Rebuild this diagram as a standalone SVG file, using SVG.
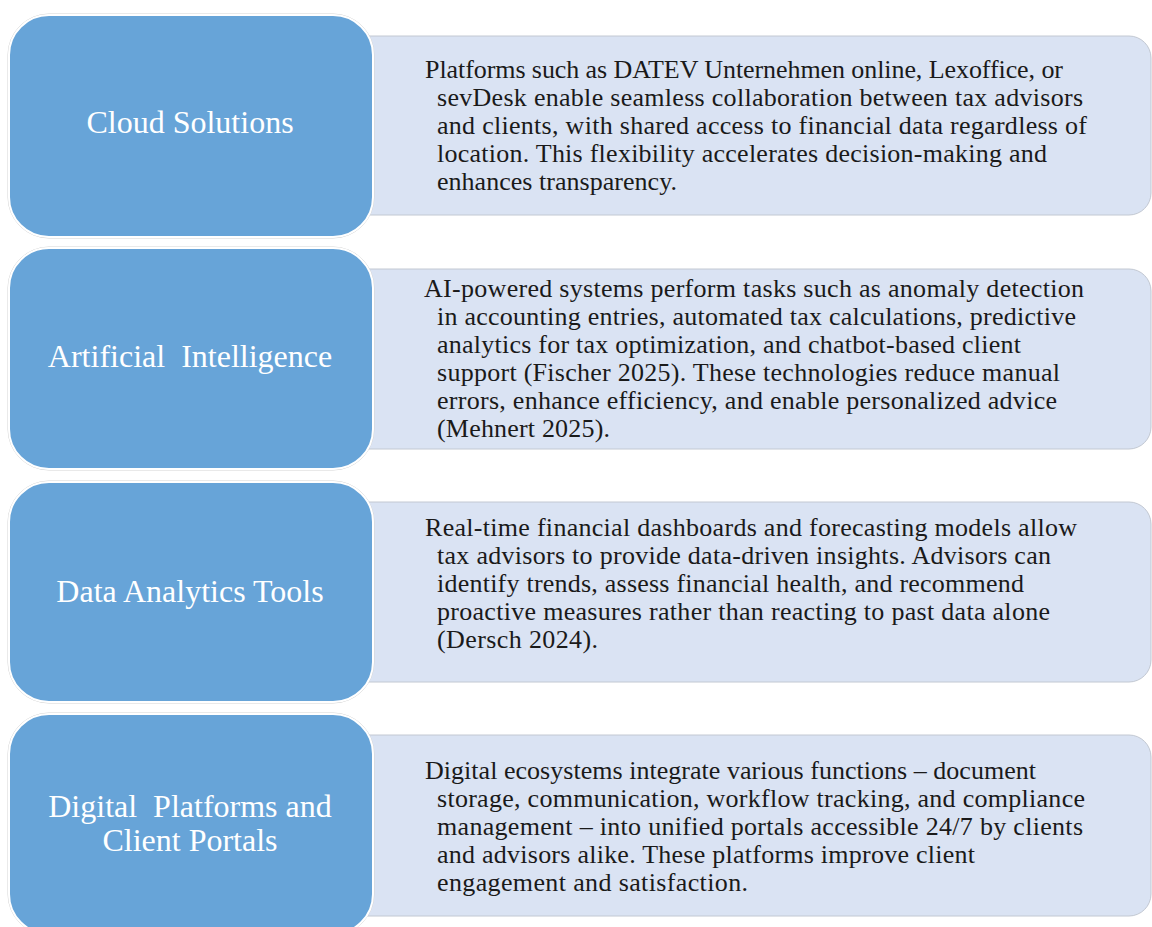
<svg xmlns="http://www.w3.org/2000/svg" width="1152" height="927" viewBox="0 0 1152 927">
  <style>
    .detail { fill: #dae3f3; stroke: #c2c8d2; stroke-width: 1; }
    .head-halo { fill: none; stroke: #d4d4d4; stroke-width: 1; }
    .head { fill: #67a4d8; stroke: #ffffff; stroke-width: 2; }
    .label { font-family: "Liberation Serif", "Times New Roman", serif; font-size: 32px; fill: #ffffff; text-anchor: middle; }
    .body { font-family: "Liberation Serif", "Times New Roman", serif; font-size: 26px; fill: #1a1a1a; }
  </style>
  <rect width="1152" height="927" fill="#ffffff"/>

  <!-- Row 1 -->
  <g id="cloud-solutions">
    <rect class="detail" x="300" y="36" width="851" height="179" rx="22"/>
    <rect class="head-halo" x="8" y="14" width="366" height="224" rx="41"/>
    <rect class="head" x="9" y="15" width="364" height="222" rx="40"/>
    <text class="label" x="190" y="133">Cloud Solutions</text>
    <text class="body" lengthAdjust="spacing">
      <tspan x="425" y="78" textLength="638">Platforms such as DATEV Unternehmen online, Lexoffice, or</tspan>
      <tspan x="437" y="106" textLength="646">sevDesk enable seamless collaboration between tax advisors</tspan>
      <tspan x="437" y="134" textLength="650">and clients, with shared access to financial data regardless of</tspan>
      <tspan x="437" y="162" textLength="610">location. This flexibility accelerates decision-making and</tspan>
      <tspan x="437" y="190" textLength="240">enhances transparency.</tspan>
    </text>
  </g>

  <!-- Row 2 -->
  <g id="artificial-intelligence">
    <rect class="detail" x="300" y="269" width="851" height="180" rx="22"/>
    <rect class="head-halo" x="8" y="247" width="366" height="223" rx="41"/>
    <rect class="head" x="9" y="248" width="364" height="221" rx="40"/>
    <text class="label" x="190" y="367" xml:space="preserve">Artificial  Intelligence</text>
    <text class="body" lengthAdjust="spacing">
      <tspan x="424" y="297" textLength="660">AI-powered systems perform tasks such as anomaly detection</tspan>
      <tspan x="437" y="325" textLength="639">in accounting entries, automated tax calculations, predictive</tspan>
      <tspan x="437" y="353" textLength="584">analytics for tax optimization, and chatbot-based client</tspan>
      <tspan x="437" y="381" textLength="623">support (Fischer 2025). These technologies reduce manual</tspan>
      <tspan x="437" y="409" textLength="620">errors, enhance efficiency, and enable personalized advice</tspan>
      <tspan x="437" y="437" textLength="173">(Mehnert 2025).</tspan>
    </text>
  </g>

  <!-- Row 3 -->
  <g id="data-analytics-tools">
    <rect class="detail" x="300" y="502" width="851" height="180" rx="22"/>
    <rect class="head-halo" x="8" y="481" width="366" height="222" rx="41"/>
    <rect class="head" x="9" y="482" width="364" height="220" rx="40"/>
    <text class="label" x="190" y="602">Data Analytics Tools</text>
    <text class="body" lengthAdjust="spacing">
      <tspan x="425" y="536" textLength="652">Real-time financial dashboards and forecasting models allow</tspan>
      <tspan x="437" y="564" textLength="614">tax advisors to provide data-driven insights. Advisors can</tspan>
      <tspan x="437" y="592" textLength="587">identify trends, assess financial health, and recommend</tspan>
      <tspan x="437" y="620" textLength="613">proactive measures rather than reacting to past data alone</tspan>
      <tspan x="437" y="648" textLength="161">(Dersch 2024).</tspan>
    </text>
  </g>

  <!-- Row 4 -->
  <g id="digital-platforms">
    <rect class="detail" x="300" y="735" width="851" height="181" rx="22"/>
    <rect class="head-halo" x="8" y="713" width="366" height="222" rx="41"/>
    <rect class="head" x="9" y="714" width="364" height="220" rx="40"/>
    <text class="label" x="190" y="817" xml:space="preserve">Digital  Platforms and</text>
    <text class="label" x="190" y="851">Client Portals</text>
    <text class="body" lengthAdjust="spacing">
      <tspan x="425" y="779" textLength="611">Digital ecosystems integrate various functions – document</tspan>
      <tspan x="437" y="807" textLength="648">storage, communication, workflow tracking, and compliance</tspan>
      <tspan x="437" y="835" textLength="646">management – into unified portals accessible 24/7 by clients</tspan>
      <tspan x="437" y="863" textLength="538">and advisors alike. These platforms improve client</tspan>
      <tspan x="437" y="891" textLength="311">engagement and satisfaction.</tspan>
    </text>
  </g>

  <!-- No connectors: rows are laid out as stacked pairs -->
  <g id="connectors"/>
</svg>
